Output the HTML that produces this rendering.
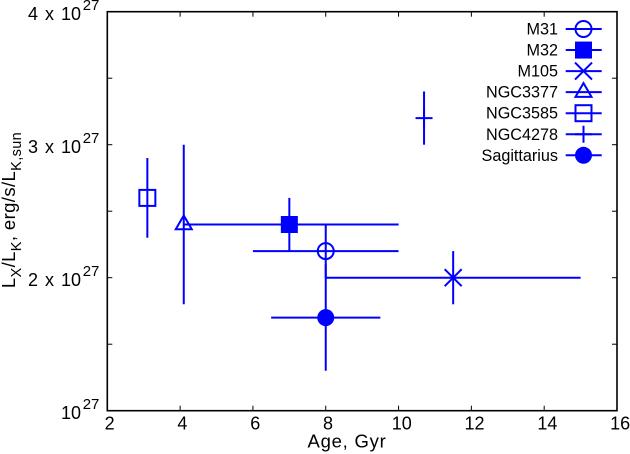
<!DOCTYPE html>
<html>
<head>
<meta charset="utf-8">
<style>
html,body{margin:0;padding:0;background:#fff;width:630px;height:454px;overflow:hidden}
svg{display:block}
text{font-family:"Liberation Sans",sans-serif;font-size:18px;fill:#000}
</style>
</head>
<body>
<svg id="chart" width="630" height="454" viewBox="0 0 630 454" xmlns="http://www.w3.org/2000/svg">
  <text x="347" y="447.7" text-anchor="middle" style="font-size:18.5px;letter-spacing:0.75px">Age, Gyr</text>
  <text transform="translate(15,210) rotate(-90)" text-anchor="middle" style="font-size:18.5px;letter-spacing:0.38px">L<tspan style="font-size:14.5px" dy="6">X</tspan><tspan dy="-6">/L</tspan><tspan style="font-size:14.5px" dy="6">K</tspan><tspan dy="-6">, erg/s/L</tspan><tspan style="font-size:14.5px" dy="6">K,sun</tspan></text>
</svg>
<script>
var galaxies = ["M31", "M32", "M105", "NGC3377", "NGC3585", "NGC4278", "Sagittarius"];
var markers = ["circle", "square", "cross", "triangle", "open-square", "plus", "disc"];
var ages = [8, 7, 11.5, 4.1, 3.1, 10.7, 8];
var ageLow = [6, 4.1, 8, 4.1, 3.1, 10.7, 6.5];
var ageHigh = [10, 10, 15, 10, 3.1, 10.7, 9.5];
var lum = [2.2, 2.4, 2.0, 2.4, 2.6, 3.2, 1.7];
var lumLow = [2.0, 2.2, 1.8, 1.8, 2.3, 3.0, 1.3];
var lumHigh = [2.4, 2.6, 2.2, 3.0, 2.9, 3.4, 2.1];
var xTicks = [2, 4, 6, 8, 10, 12, 14, 16];
var yTicks = [1, 1.5, 2, 2.5, 3, 3.5, 4];
var yLabels = ["", "", "2 x 10", "", "3 x 10", "", "4 x 10"];

var NS = "http://www.w3.org/2000/svg";
var svg = document.getElementById("chart");
var L = 107.3, R = 617, T = 11.7, B = 410.7;
function sx(v) { return L + (v - 2) * (R - L) / 14; }
function sy(v) { return B - (v - 1) * (B - T) / 3; }

function line(parent, x1, y1, x2, y2, color, w) {
  var el = document.createElementNS(NS, "line");
  el.setAttribute("x1", x1);
  el.setAttribute("y1", y1);
  el.setAttribute("x2", x2);
  el.setAttribute("y2", y2);
  el.setAttribute("stroke", color);
  el.setAttribute("stroke-width", w);
  parent.appendChild(el);
  return el;
}
function label(parent, x, y, str, anchor) {
  var el = document.createElementNS(NS, "text");
  el.setAttribute("x", x);
  el.setAttribute("y", y);
  el.setAttribute("text-anchor", anchor);
  el.textContent = str;
  parent.appendChild(el);
  return el;
}
function drawMarker(parent, kind, cx, cy) {
  var blue = "#0000ff", el;
  if (kind === "circle" || kind === "disc") {
    el = document.createElementNS(NS, "circle");
    el.setAttribute("cx", cx);
    el.setAttribute("cy", cy);
    el.setAttribute("r", kind === "disc" ? 8.5 : 8);
    el.setAttribute("fill", kind === "disc" ? blue : "none");
    el.setAttribute("stroke", kind === "disc" ? "none" : blue);
    el.setAttribute("stroke-width", 2);
    parent.appendChild(el);
  } else if (kind === "square" || kind === "open-square") {
    el = document.createElementNS(NS, "rect");
    var half = kind === "square" ? 8.5 : 8;
    el.setAttribute("x", cx - half);
    el.setAttribute("y", cy - half);
    el.setAttribute("width", half * 2);
    el.setAttribute("height", half * 2);
    el.setAttribute("fill", kind === "square" ? blue : "none");
    el.setAttribute("stroke", kind === "square" ? "none" : blue);
    el.setAttribute("stroke-width", 2);
    parent.appendChild(el);
  } else if (kind === "cross") {
    line(parent, cx - 8.5, cy - 8.5, cx + 8.5, cy + 8.5, blue, 2);
    line(parent, cx - 8.5, cy + 8.5, cx + 8.5, cy - 8.5, blue, 2);
  } else if (kind === "plus") {
    line(parent, cx - 8.5, cy, cx + 8.5, cy, blue, 2);
    line(parent, cx, cy - 8.5, cx, cy + 8.5, blue, 2);
  } else if (kind === "triangle") {
    el = document.createElementNS(NS, "polygon");
    el.setAttribute("points", (cx - 8) + "," + (cy + 4.7) + " " + (cx + 8) + "," + (cy + 4.7) + " " + cx + "," + (cy - 9));
    el.setAttribute("fill", "none");
    el.setAttribute("stroke", blue);
    el.setAttribute("stroke-width", 2);
    parent.appendChild(el);
  }
}

/* ticks */
xTicks.forEach(function (v, i) {
  var g = document.createElementNS(NS, "g");
  
  
  if (i > 0 && i < xTicks.length - 1) {
    line(g, sx(v), B, sx(v), B - 5, "#000", 1);
    line(g, sx(v), T, sx(v), T + 5, "#000", 1);
  }
  label(g, sx(v) + (v < 10 ? 2.3 : 3.2), 429.5, String(v), "middle");
  svg.appendChild(g);
});
yTicks.forEach(function (v, i) {
  var g = document.createElementNS(NS, "g");
  
  
  if (i > 0 && i < yTicks.length - 1) {
    line(g, L, sy(v), L + 5, sy(v), "#000", 1);
    line(g, R, sy(v), R - 5, sy(v), "#000", 1);
  }
  if (i % 2 === 0) {
    var base = sy(v) + 8.5;
    if (yLabels[i]) {
      var t = label(g, 81, base, yLabels[i], "end");
      t.setAttribute("style", "word-spacing:2px");
    } else {
      label(g, 81, base, "10", "end");
    }
    var e = label(g, 82.7, base - 10, "27", "start");
    e.setAttribute("style", "font-size:15px");
  }
  svg.appendChild(g);
});

/* frame */
var frame = document.createElementNS(NS, "rect");


frame.setAttribute("x", L);
frame.setAttribute("y", T);
frame.setAttribute("width", R - L);
frame.setAttribute("height", B - T);
frame.setAttribute("fill", "none");
frame.setAttribute("stroke", "#000");
frame.setAttribute("stroke-width", 1.6);
svg.appendChild(frame);

/* series */
galaxies.forEach(function (name, i) {
  var g = document.createElementNS(NS, "g");
  
  
  var cx = sx(ages[i]), cy = sy(lum[i]);
  if (ageLow[i] !== ageHigh[i]) {
    line(g, sx(ageLow[i]), cy, sx(ageHigh[i]), cy, "#0000ff", 2);
  }
  line(g, cx, sy(lumLow[i]), cx, sy(lumHigh[i]), "#0000ff", 2);
  drawMarker(g, markers[i], cx, cy);
  svg.appendChild(g);
});

/* legend */
galaxies.forEach(function (name, i) {
  var g = document.createElementNS(NS, "g");
  
  
  var y = 29 + i * 21.05;
  label(g, 558, y + 5.5, name, "end").setAttribute("style", "font-size:16.2px");
  line(g, 565.7, y, 601.7, y, "#0000ff", 2);
  drawMarker(g, markers[i], 583.5, y);
  svg.appendChild(g);
});
</script>
</body>
</html>
